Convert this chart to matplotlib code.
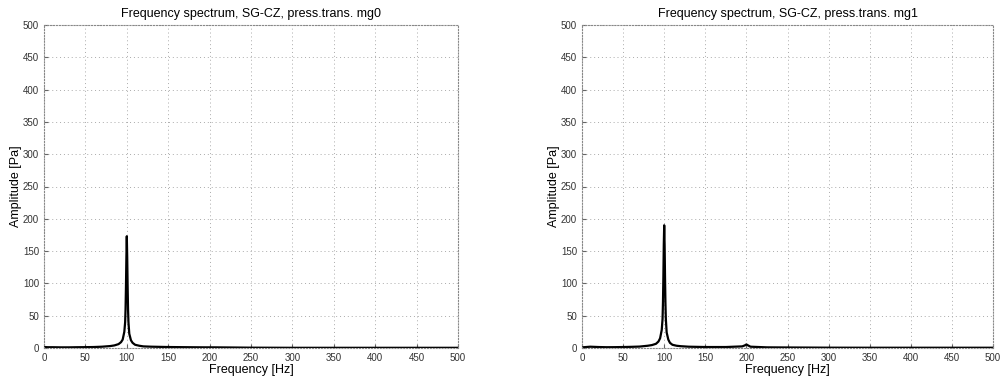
import matplotlib
matplotlib.use("Agg")
import matplotlib.pyplot as plt

# frequency points [Hz] and amplitudes [Pa]
freq = [0, 5, 10, 20, 30, 40, 50, 60, 70, 80, 85, 90, 93, 95, 97, 98, 98.5, 99, 99.5,
        100, 100.5, 101, 101.5, 102, 103, 105, 107, 110, 115, 120, 130, 150, 175,
        195, 198, 200, 202, 205, 225, 250, 300, 350, 400, 450, 500]
amp_mg0 = [1.5, 1.2, 1.2, 1.0, 1.0, 1.2, 1.3, 1.5, 2.0, 3.0, 4.0, 6.0, 9, 13, 25, 40, 60, 95, 140,
           173, 140, 95, 60, 40, 22, 12, 8, 5, 3.5, 2.5, 2.0, 1.5, 1.2,
           1.0, 1.0, 1.0, 1.0, 1.0, 0.8, 0.5, 0.3, 0.3, 0.3, 0.3, 0.3]
amp_mg1 = [1.0, 1.5, 2.0, 1.5, 1.2, 1.3, 1.5, 1.8, 2.2, 3.5, 4.5, 6.5, 10, 15, 28, 45, 70, 110, 160,
           190, 160, 110, 70, 45, 24, 13, 8, 5, 3.5, 2.8, 2.0, 1.5, 1.5,
           2.5, 4.0, 5.5, 4.0, 2.0, 1.0, 0.8, 0.5, 0.4, 0.4, 0.4, 0.4]
titles = ["Frequency spectrum, SG-CZ, press.trans. mg0",
          "Frequency spectrum, SG-CZ, press.trans. mg1"]

plt.rcParams["font.family"] = ["Liberation Sans", "DejaVu Sans"]

fig = plt.figure(figsize=(10.05, 3.81), dpi=100)
ax1 = fig.add_axes([44/1005, 1 - 348/381, 414/1005, 323/381])
ax2 = fig.add_axes([582/1005, 1 - 348/381, 411/1005, 323/381])

for ax, amp, t in zip([ax1, ax2], [amp_mg0, amp_mg1], titles):
    ax.plot(freq, amp, color="black", linewidth=1.6)
    ax.set_xlim(0, 500)
    ax.set_ylim(0, 500)
    ax.set_xticks(range(0, 501, 50))
    ax.set_yticks(range(0, 501, 50))
    ax.grid(True, linestyle=(0, (1, 3)), color="#aaaaaa", linewidth=0.7)
    ax.tick_params(direction="in", labelsize=7, length=3, color="#666666", labelcolor="#333333")
    for s in ax.spines.values():
        s.set_linestyle(":")
        s.set_color("#888888")
    ax.set_title(t, fontsize=9, pad=6)
    ax.set_xlabel("Frequency [Hz]", fontsize=9, labelpad=1)
    ax.set_ylabel("Amplitude [Pa]", fontsize=9, labelpad=1)

fig.savefig("out.png", dpi=100)
